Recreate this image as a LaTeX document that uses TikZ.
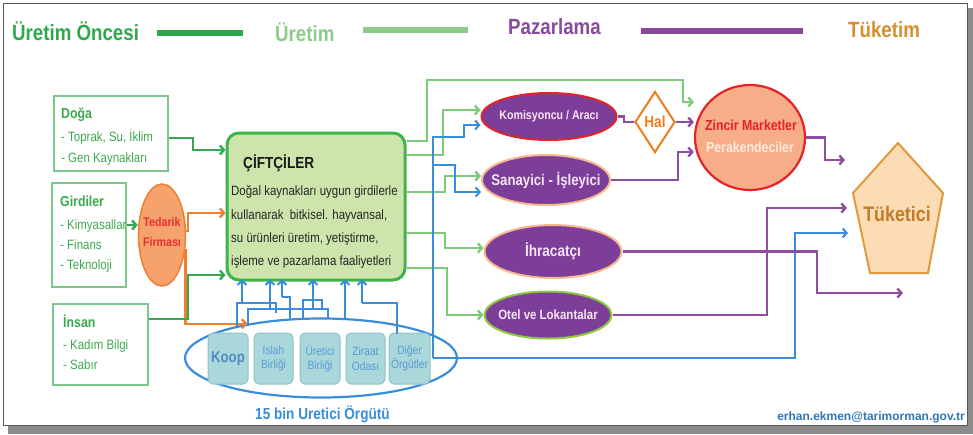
\documentclass[tikz,border=0pt]{standalone}
\usepackage{fontspec}
\setmainfont{Liberation Sans}
\newfontfamily\cond[FakeStretch=0.85]{Liberation Sans}
\usetikzlibrary{arrows.meta,shapes.geometric}
\definecolor{tgreen}{HTML}{2EA84C}
\definecolor{tlgreen}{HTML}{8CCB88}
\definecolor{tpurple}{HTML}{8A4A9C}
\definecolor{torange}{HTML}{D98E2C}
\definecolor{boxgreen}{HTML}{7CC88A}
\definecolor{txtgreen}{HTML}{3BAA4D}
\definecolor{cgreen}{HTML}{3DB54A}
\definecolor{cfill}{HTML}{CDE5AC}
\definecolor{lgline}{HTML}{7DCB78}
\definecolor{dgline}{HTML}{34A853}
\definecolor{oline}{HTML}{F07F32}
\definecolor{tedfill}{HTML}{F6A26C}
\definecolor{tedred}{HTML}{E8302E}
\definecolor{bluel}{HTML}{3A8DDA}
\definecolor{orgfill}{HTML}{A9D7DA}
\definecolor{orgdraw}{HTML}{8EC3C8}
\definecolor{orgtext}{HTML}{5A9AD6}
\definecolor{mfill}{HTML}{7C3E98}
\definecolor{mtext}{HTML}{F6E6F6}
\definecolor{mred}{HTML}{E42329}
\definecolor{mpeach}{HTML}{F6B98E}
\definecolor{mlime}{HTML}{8DC63F}
\definecolor{pline}{HTML}{8E4E9F}
\definecolor{halor}{HTML}{F07C1C}
\definecolor{zfill}{HTML}{F7AD88}
\definecolor{zwhite}{HTML}{FDEBDD}
\definecolor{tkfill}{HTML}{FCDCB5}
\definecolor{tkdraw}{HTML}{DF9A3C}
\definecolor{tktext}{HTML}{C47B25}
\definecolor{mail}{HTML}{2F76B8}
\tikzset{
  tip/.style={-{Straight Barb[length=4pt,width=9pt]}},
  gcon/.style={draw=dgline, line width=2.4pt, tip},
  lgcon/.style={draw=lgline, line width=2.4pt, tip},
  ocon/.style={draw=oline, line width=2.4pt, tip},
  bcon/.style={draw=bluel, line width=2pt, tip},
  bpath/.style={draw=bluel, line width=2pt},
  pcon/.style={draw=pline, line width=2.4pt, tip},
  ppath/.style={draw=pline, line width=2.4pt},
  lbox/.style={draw=boxgreen, line width=1.6pt, fill=white, inner sep=0},
  txt/.style={inner sep=0, anchor=base west},
  ctxt/.style={inner sep=0, align=center},
  head/.style={txt, font=\cond\bfseries\fontsize{14.5}{14.5}\selectfont, text=txtgreen},
  item/.style={txt, font=\cond\fontsize{13.5}{13.5}\selectfont, text=txtgreen},
  title/.style={txt, font=\cond\bfseries\fontsize{22}{22}\selectfont},
  mkt/.style={ellipse, fill=mfill, line width=2pt, inner sep=0},
  mlabel/.style={ctxt, text=mtext, font=\cond\bfseries},
  orgbox/.style={draw=orgdraw, fill=orgfill, line width=1pt, rounded corners=5pt,
    minimum height=51, inner sep=0},
  orgsmall/.style={ctxt, text=orgtext, font=\cond\fontsize{12}{14.5}\selectfont},
}
\begin{document}
\begin{tikzpicture}[x=1pt,y=-1pt]
\useasboundingbox (0,0) rectangle (973,434);
% page, shadow and frame
\fill[white] (0,0) rectangle (973,434);
\fill[black!45] (8,8) rectangle (973,434);
\filldraw[fill=white, draw=black!65, line width=1pt] (3,3) rectangle (967,425);

% stage headings
\node[title, text=tgreen] (h1) at (12,40) {Üretim Öncesi};
\draw[tgreen, line width=6.5pt] (157,33) -- (243,33);
\node[title, text=tlgreen] (h2) at (275,41) {Üretim};
\draw[tlgreen, line width=6.5pt] (363,30) -- (468,30);
\node[title, text=tpurple] (h3) at (508,34) {Pazarlama};
\draw[tpurple, line width=6.5pt] (641,31) -- (803,31);
\node[title, text=torange] (h4) at (848,37) {Tüketim};

% resource boxes
\node[lbox, minimum width=114, minimum height=75] (doga) at (111,133.5) {};
\node[head] (doga-h) at (61,118) {Doğa};
\node[item] (doga-1) at (61,141) {- Toprak, Su, İklim};
\node[item] (doga-2) at (61,162) {- Gen Kaynakları};

\node[lbox, minimum width=74, minimum height=104] (gird) at (89,235) {};
\node[head] (gird-h) at (60,206) {Girdiler};
\node[item] (gird-1) at (60,229) {- Kimyasallar};
\node[item] (gird-2) at (60,249) {- Finans};
\node[item] (gird-3) at (60,269) {- Teknoloji};

\node[lbox, minimum width=95, minimum height=81] (insan) at (100.5,344.5) {};
\node[head] (insan-h) at (63,327) {İnsan};
\node[item] (insan-1) at (63,349) {- Kadım Bilgi};
\node[item] (insan-2) at (63,369) {- Sabır};

% supplier
\node[ellipse, fill=tedfill, draw=oline, line width=1.5pt, minimum width=47,
  minimum height=102, inner sep=0] (ted) at (162,235) {};
\node[ctxt, text=tedred, font=\cond\bfseries\fontsize{12.5}{20}\selectfont] (ted-t) at (162,232) {Tedarik\\Firması};

% farmers
\node[draw=cgreen, fill=cfill, line width=3pt, rounded corners=12pt,
  minimum width=178, minimum height=147, inner sep=0] (cift) at (316,206.5) {};
\node[txt, font=\cond\bfseries\fontsize{16}{16}\selectfont, text=black!90] (cift-h) at (243,168) {ÇİFTÇİLER};
\node[txt, font=\cond\fontsize{13.5}{13.5}\selectfont, text=black!85] (cift-1) at (231,195) {Doğal kaynakları uygun girdilerle};
\node[txt, font=\cond\fontsize{13.5}{13.5}\selectfont, text=black!85] (cift-2) at (231,219) {kullanarak\ \ bitkisel. hayvansal,};
\node[txt, font=\cond\fontsize{13.5}{13.5}\selectfont, text=black!85] (cift-3) at (231,242) {su ürünleri üretim, yetiştirme,};
\node[txt, font=\cond\fontsize{13.5}{13.5}\selectfont, text=black!85] (cift-4) at (231,265) {işleme ve pazarlama faaliyetleri};

% producer organisations
\node[ellipse, draw=bluel, line width=2.2pt, minimum width=272, minimum height=79,
  inner sep=0] (org) at (321,358) {};
\node[orgbox, minimum width=40] (koop) at (228,358.5) {};
\node[orgbox, minimum width=39] (islah) at (273.5,358.5) {};
\node[orgbox, minimum width=40] (uret) at (320,358.5) {};
\node[orgbox, minimum width=39] (ziraat) at (365.5,358.5) {};
\node[orgbox, minimum width=41] (diger) at (409.5,358.5) {};
\node[ctxt, text=orgtext!90!black, font=\cond\bfseries\fontsize{15.5}{15.5}\selectfont] (koop-t) at (koop) {Koop};
\node[orgsmall] (islah-t) at (islah) {Islah\\Birliği};
\node[orgsmall] (uret-t) at (uret) {Üretici\\Birliği};
\node[orgsmall] (ziraat-t) at (ziraat) {Ziraat\\Odası};
\node[orgsmall] (diger-t) at (diger) {Diğer\\Örgütler};
\node[txt, font=\cond\bfseries\fontsize{16}{16}\selectfont, text=bluel] (org-t) at (255,419) {15 bin Uretici Örgütü};

% marketing channels
\node[mkt, draw=mred, minimum width=135, minimum height=47] (komis) at (549,116.5) {};
\node[mlabel, font=\cond\bfseries\fontsize{12.5}{12.5}\selectfont] (komis-t) at (komis) {Komisyoncu / Aracı};
\node[mkt, draw=mpeach, minimum width=128, minimum height=50] (sana) at (546,180) {};
\node[mlabel, font=\cond\bfseries\fontsize{15.5}{15.5}\selectfont] (sana-t) at (sana) {Sanayici - İşleyici};
\node[mkt, draw=mpeach, minimum width=137, minimum height=53] (ihra) at (553,251.5) {};
\node[mlabel, font=\cond\bfseries\fontsize{16}{16}\selectfont] (ihra-t) at (ihra) {İhracatçı};
\node[mkt, draw=mlime, minimum width=127, minimum height=47] (otel) at (548,315) {};
\node[mlabel, font=\cond\bfseries\fontsize{13.5}{13.5}\selectfont] (otel-t) at (otel) {Otel ve Lokantalar};

\node[diamond, draw=halor, fill=white, line width=2pt, minimum width=40,
  minimum height=61, inner sep=0] (hal) at (655,122) {};
\node[ctxt, text=halor, font=\cond\bfseries\fontsize{16}{16}\selectfont] (hal-t) at (hal) {Hal};

\node[ellipse, fill=zfill, draw=mred, line width=2.2pt, minimum width=110,
  minimum height=105, inner sep=0] (zinc) at (750,137.5) {};
\node[txt, anchor=base, text=mred, font=\cond\bfseries\fontsize{14.5}{14.5}\selectfont] (zinc-1) at (751,130) {Zincir Marketler};
\node[txt, anchor=base, text=zwhite, font=\cond\bfseries\fontsize{14.5}{14.5}\selectfont] (zinc-2) at (750,152) {Perakendeciler};

% consumer
\coordinate (p1) at (898,143);
\coordinate (p2) at (943,193);
\coordinate (p3) at (928,273);
\coordinate (p4) at (870,273);
\coordinate (p5) at (853,193);
\filldraw[fill=tkfill, draw=tkdraw, line width=2pt, line join=miter] (p1) -- (p2) -- (p3) -- (p4) -- (p5) -- cycle;
\node[txt, anchor=base, text=tktext, font=\cond\bfseries\fontsize{21}{21}\selectfont] (tuk) at (897,221) {Tüketici};

\node[txt, anchor=base east, text=mail, font=\bfseries\fontsize{12}{12}\selectfont] (mail) at (965,420) {erhan.ekmen@tarimorman.gov.tr};

% inputs into the farm
\draw[gcon] (doga.east |- 0,138) -- (193,138) -- (193,150) -- (cift.west |- 0,150);
\draw[gcon] (gird.east |- 0,225) -- (ted.west |- 0,225);
\draw[ocon] (ted.10) -| (188,213) -- (cift.west |- 0,213);
\draw[ocon] (ted.-30) |- (org.155);
\draw[gcon] (insan.east |- 0,319) -- (188,319) -- (188,275) -- (cift.west |- 0,275);

% organisations supporting the farmers
\draw[bpath] (237,328) -- (237,303) -- (276,303) -- (276,313);
\draw[bcon, shorten >=-2pt] (242,303) -- (cift.south -| 242,0);
\draw[bpath] (248,326) -- (248,309) -- (328,309) -- (328,319);
\draw[bcon, shorten >=-2pt] (270,309) -- (cift.south -| 270,0);
\draw[bpath] (290,320) -- (290,297) -- (282,297);
\draw[bcon, shorten >=-2pt] (282,297) -- (cift.south -| 282,0);
\draw[bpath] (303,319) -- (303,300) -- (322,300) -- (322,309);
\draw[bcon, shorten >=-2pt] (313,309) -- (cift.south -| 313,0);
\draw[bcon, shorten >=-2pt] (345,319) -- (cift.south -| 345,0);
\draw[bpath] (397,334) -- (397,303) -- (362,303);
\draw[bcon, shorten >=-2pt] (362,303) -- (cift.south -| 362,0);

% farm output to markets
\draw[lgcon] (cift.east |- 0,141) -- (427,141) -- (427,80) -- (683,80) -- (683,102) -- (zinc.west |- 0,102);
\draw[lgcon] (cift.east |- 0,155) -- (443,155) -- (443,110) -- (komis.west |- 0,110);
\draw[lgcon] (cift.east |- 0,192) -- (445,192) -- (445,176) -- (sana.west |- 0,176);
\draw[lgcon] (cift.east |- 0,233) -- (445,233) -- (445,248) -- (ihra.west |- 0,248);
\draw[lgcon] (cift.east |- 0,268) -- (447,268) -- (447,315) -- (otel.west |- 0,315);

% organisations to markets and consumers
\coordinate (bj) at (433,358);
\draw[bcon] (bj) -- (433,137) -- (464,137) -- (464,125) -- (komis.west |- 0,125);
\draw[bcon] (433,165) -- (455,165) -- (455,192) -- (sana.west |- 0,192);
\coordinate (tkb) at (848,233);
\draw[bcon] (bj) -- (795,358) -- (795,233) -- (tkb);

% market flows
\draw[ppath] (komis.east) -- (624,116.5) |- (hal.west);
\draw[pcon] (hal.east) -- (zinc.west |- hal.east);
\draw[pcon] (sana.east) -- (678,180) -- (678,152) -- (zinc.west |- 0,152);
\coordinate (zt) at (845,160);
\draw[pcon] (zinc.east) -- (825,137.5) -- (825,160) -- (zt);
\coordinate (it) at (903,293);
\draw[pcon] (ihra.east) -- (817,251.5) -- (817,293) -- (it);
\coordinate (ot) at (847,208);
\draw[pcon] (otel.east) -- (767,315) -- (767,208) -- (ot);
\end{tikzpicture}
\end{document}
